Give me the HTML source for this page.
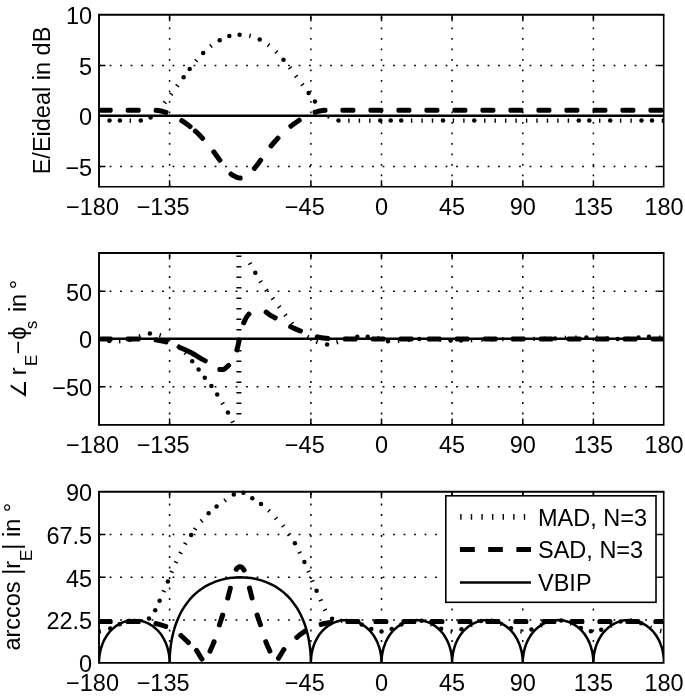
<!DOCTYPE html>
<html lang="en"><head><meta charset="utf-8"><title>Figure</title>
<style>html,body{margin:0;padding:0;background:#fff}svg{display:block}</style></head>
<body>
<svg width="685" height="699" viewBox="0 0 685 699" font-family="'Liberation Sans', Arial, Helvetica, sans-serif" font-size="23.5" fill="#000">
<rect width="685" height="699" fill="#fff"/>
<g id="ax1">
<path d="M169.6 186.7V14.8M310.9 186.7V14.8M381.5 186.7V14.8M452.1 186.7V14.8M522.8 186.7V14.8M593.4 186.7V14.8M99.1 65.4H664M99.1 115.9H664M99.1 166.5H664" stroke="#000" stroke-width="1.5" stroke-dasharray="1.80 8.70" fill="none"/>
<path d="M99 115.7H664" stroke="#000" stroke-width="2.4"/>
<path d="M110.9 112.7L111.8 112.4L112.5 111.8L112.7 110.9L112.7 109.5L112.5 108.6L111.8 107.9L110.9 107.7L100.8 107.7L99.9 107.9L99.2 108.6L99 109.5L99 110.9L99.2 111.8L99.9 112.4L100.8 112.7ZM138.9 112.7L139.8 112.4L140.5 111.8L140.7 110.9L140.7 109.5L140.5 108.6L139.8 107.9L138.9 107.7L127.5 107.7L126.6 107.9L125.9 108.6L125.7 109.5L125.7 110.9L125.9 111.8L126.6 112.4L127.5 112.7ZM157.9 113L161.6 113.7L163.4 114.2L165.7 115L166.7 115.1L167.5 114.7L168.1 113.9L168.5 112.6L168.6 111.7L168.2 110.8L167.4 110.3L164.8 109.4L162.7 108.8L158.6 108.1L155.8 107.7L154.9 107.9L154.1 108.4L153.8 109.3L153.6 110.7L153.8 111.6L154.3 112.4L155.2 112.7ZM182.3 124L187 127.3L189 128.9L189.9 129.2L190.8 129.1L191.6 128.6L192.4 127.5L192.8 126.6L192.7 125.7L192.1 124.9L189.9 123.3L185.2 119.8L182.7 118.2L181.8 117.9L180.9 118.1L180.2 118.7L179.4 119.9L179.1 120.7L179.3 121.7L179.9 122.4ZM196.5 135.6L201.2 140.4L202 140.9L202.9 140.9L203.7 140.4L204.7 139.5L205.2 138.7L205.2 137.7L204.8 136.9L200 132.1L196.6 128.8L195.8 128.4L194.9 128.4L194.1 128.9L193.1 129.9L192.7 130.7L192.7 131.6L193.2 132.4ZM218.2 162.2L218.9 162.7L219.8 162.9L220.7 162.6L221.8 161.7L222.4 161L222.6 160.1L222.2 159.2L215.6 150L214.8 149.4L213.9 149.2L213 149.6L211.9 150.4L211.3 151.1L211.2 152L211.5 152.9ZM230 176.5L231.1 177.2L233.7 178.6L235.4 179.5L236.7 180L238.1 180.3L239.7 180.6L241 180.6L241.9 180.3L242.5 179.5L242.7 178.6L242.6 177.2L242.3 176.4L241.5 175.7L240.6 175.6L240.1 175.6L239.2 175.5L237.3 174.8L235.9 174.1L233.7 172.9L233.1 172.6L232.2 171.7L231.3 171.3L230.4 171.4L229.6 171.9L228.7 173L228.3 173.9L228.4 174.8L228.9 175.6ZM259.5 166.1L263 161.3L263.3 160.4L263.2 159.5L262.6 158.7L261.5 157.9L260.6 157.6L259.7 157.7L258.9 158.3L255.5 163L252.1 167.3L251.7 168.1L251.8 169.1L252.4 169.8L253.5 170.7L254.3 171.1L255.3 171L256 170.4ZM272.7 147.9L275.9 144.2L280.1 139.6L280.6 138.8L280.6 137.8L280.1 137L279 136.1L278.2 135.6L277.3 135.6L276.5 136.1L272.1 140.8L270.1 143.1L268.8 144.8L268.4 145.6L268.5 146.6L269.1 147.3L270.1 148.2L271 148.6L271.9 148.5ZM291.9 128.5L296.2 125.3L301.1 122L301.7 121.3L301.9 120.4L301.6 119.5L300.9 118.4L300.2 117.7L299.2 117.6L298.4 117.8L293.4 121.2L290.9 123L288.9 124.5L288.3 125.3L288.2 126.2L288.6 127.1L289.4 128.2L290.2 128.7L291.1 128.9ZM317.1 114.2L318.9 113.7L323 112.9L325.8 112.7L326.7 112.4L327.3 111.7L327.5 110.7L327.4 109.3L327.1 108.5L326.4 107.9L325.4 107.7L322.3 108L317.8 108.8L315.7 109.4L313.7 110.1L312.9 110.6L312.5 111.4L312.6 112.4L313 113.7L313.6 114.4L314.4 114.9L315.3 114.8ZM353.6 112.7L354.5 112.4L355.2 111.8L355.4 110.9L355.4 109.5L355.2 108.6L354.5 107.9L353.6 107.7L342.2 107.7L341.3 107.9L340.7 108.6L340.4 109.5L340.4 110.9L340.7 111.8L341.3 112.4L342.2 112.7ZM381.6 112.7L382.5 112.4L383.2 111.8L383.4 110.9L383.4 109.5L383.2 108.6L382.5 107.9L381.6 107.7L370.2 107.7L369.3 107.9L368.7 108.6L368.4 109.5L368.4 110.9L368.7 111.8L369.3 112.4L370.2 112.7ZM409.6 112.7L410.5 112.4L411.2 111.8L411.4 110.9L411.4 109.5L411.2 108.6L410.5 107.9L409.6 107.7L398.2 107.7L397.3 107.9L396.7 108.6L396.4 109.5L396.4 110.9L396.7 111.8L397.3 112.4L398.2 112.7ZM437.6 112.7L438.5 112.4L439.2 111.8L439.4 110.9L439.4 109.5L439.2 108.6L438.5 107.9L437.6 107.7L426.2 107.7L425.3 107.9L424.7 108.6L424.4 109.5L424.4 110.9L424.7 111.8L425.3 112.4L426.2 112.7ZM465.6 112.7L466.5 112.4L467.2 111.8L467.4 110.9L467.4 109.5L467.2 108.6L466.5 107.9L465.6 107.7L454.2 107.7L453.3 107.9L452.7 108.6L452.4 109.5L452.4 110.9L452.7 111.8L453.3 112.4L454.2 112.7ZM493.6 112.7L494.5 112.4L495.2 111.8L495.4 110.9L495.4 109.5L495.2 108.6L494.5 107.9L493.6 107.7L482.2 107.7L481.3 107.9L480.7 108.6L480.4 109.5L480.4 110.9L480.7 111.8L481.3 112.4L482.2 112.7ZM521.6 112.7L522.5 112.4L523.2 111.8L523.4 110.9L523.4 109.5L523.2 108.6L522.5 107.9L521.6 107.7L510.2 107.7L509.3 107.9L508.7 108.6L508.4 109.5L508.4 110.9L508.7 111.8L509.3 112.4L510.2 112.7ZM549.6 112.7L550.5 112.4L551.2 111.8L551.4 110.9L551.4 109.5L551.2 108.6L550.5 107.9L549.6 107.7L538.2 107.7L537.3 107.9L536.7 108.6L536.4 109.5L536.4 110.9L536.7 111.8L537.3 112.4L538.2 112.7ZM577.6 112.7L578.5 112.4L579.2 111.8L579.4 110.9L579.4 109.5L579.2 108.6L578.5 107.9L577.6 107.7L566.2 107.7L565.3 107.9L564.7 108.6L564.4 109.5L564.4 110.9L564.7 111.8L565.3 112.4L566.2 112.7ZM605.6 112.7L606.5 112.4L607.2 111.8L607.4 110.9L607.4 109.5L607.2 108.6L606.5 107.9L605.6 107.7L594.2 107.7L593.3 107.9L592.7 108.6L592.4 109.5L592.4 110.9L592.7 111.8L593.3 112.4L594.2 112.7ZM633.6 112.7L634.5 112.4L635.2 111.8L635.4 110.9L635.4 109.5L635.2 108.6L634.5 107.9L633.6 107.7L622.2 107.7L621.3 107.9L620.7 108.6L620.4 109.5L620.4 110.9L620.7 111.8L621.3 112.4L622.2 112.7ZM661.6 112.7L662.5 112.4L663.2 111.8L663.4 110.9L663.4 109.5L663.2 108.6L662.5 107.9L661.6 107.7L650.2 107.7L649.3 107.9L648.7 108.6L648.4 109.5L648.4 110.9L648.7 111.8L649.3 112.4L650.2 112.7Z" fill="#000"/>
<path d="M99 118.4L99 122.7M130.3 118.4L130.3 122.7M156.6 109.1L159.9 111.9M163.2 101.1L166.6 103.8M169.5 92.8L172.9 95.4M175.6 84.4L179.1 87M194.6 59.3L197.8 62M209.7 44.2L212.3 47.6M250.5 33.7L249.5 37.9M269.8 43.5L267.2 46.9M277.9 50.5L274.9 53.6M291.8 66.6L288.3 69.2M297.9 75L294.5 77.6M304.1 83.4L300.7 86M323.1 108.2L319.8 111M330.3 115.2L327.6 118.5M348.9 118.4L348.9 122.7M359.4 118.4L359.4 122.7M369.8 118.4L369.8 122.7M411.6 118.4L411.6 122.7M422.1 118.4L422.1 122.7M432.5 118.4L432.5 122.7M453.4 118.4L453.4 122.7M463.9 118.4L463.9 122.7M484.8 118.4L484.8 122.7M495.2 118.4L495.2 122.7M505.7 118.4L505.7 122.7M516.1 118.4L516.1 122.7M526.6 118.4L526.6 122.7M537 118.4L537 122.7M547.5 118.4L547.5 122.7M557.9 118.4L557.9 122.7M568.4 118.4L568.4 122.7M599.7 118.4L599.7 122.7M620.6 118.4L620.6 122.7M631.1 118.4L631.1 122.7M662.4 118.4L662.4 122.7" stroke="#000" stroke-width="1.4" fill="none"/><g fill="#000"><circle cx="109.5" cy="120.6" r="2.25"/><circle cx="119.9" cy="120.6" r="2.25"/><circle cx="140.8" cy="120.5" r="2.25"/><circle cx="150.6" cy="117.6" r="2.25"/><circle cx="183.6" cy="77.3" r="2.25"/><circle cx="189.7" cy="68.9" r="2.25"/><circle cx="203.2" cy="52.9" r="2.25"/><circle cx="219.7" cy="40.2" r="2.25"/><circle cx="229.3" cy="36.1" r="2.25"/><circle cx="239.6" cy="34.7" r="2.25"/><circle cx="259.7" cy="39.6" r="2.25"/><circle cx="283.5" cy="59.7" r="2.25"/><circle cx="308.6" cy="93.1" r="2.25"/><circle cx="314.9" cy="101.5" r="2.25"/><circle cx="338.5" cy="120.4" r="2.25"/><circle cx="380.3" cy="120.6" r="2.25"/><circle cx="390.7" cy="120.6" r="2.25"/><circle cx="401.2" cy="120.6" r="2.25"/><circle cx="443" cy="120.6" r="2.25"/><circle cx="474.3" cy="120.6" r="2.25"/><circle cx="578.8" cy="120.6" r="2.25"/><circle cx="589.3" cy="120.6" r="2.25"/><circle cx="610.2" cy="120.6" r="2.25"/><circle cx="641.5" cy="120.6" r="2.25"/><circle cx="652" cy="120.6" r="2.25"/></g>
<path d="M169.6 186.7v-6.5 M169.6 14.8v6.5M310.9 186.7v-6.5 M310.9 14.8v6.5M381.5 186.7v-6.5 M381.5 14.8v6.5M452.1 186.7v-6.5 M452.1 14.8v6.5M522.8 186.7v-6.5 M522.8 14.8v6.5M593.4 186.7v-6.5 M593.4 14.8v6.5M99 65.4h6.5 M664 65.4h-6.5M99 115.9h6.5 M664 115.9h-6.5M99 166.5h6.5 M664 166.5h-6.5" stroke="#000" stroke-width="1.5" fill="none"/>
<path d="M99 187.5V14.8H664.4" fill="none" stroke="#000" stroke-width="1.9" stroke-linejoin="miter"/>
<path d="M99 186.7H663.7V14.8" fill="none" stroke="#000" stroke-width="1.6" stroke-linejoin="miter"/>
<g text-anchor="middle">
<text x="92.5" y="215">−180</text>
<text x="163.1" y="215">−135</text>
<text x="304.8" y="215">−45</text>
<text x="381.5" y="215">0</text>
<text x="452.1" y="215">45</text>
<text x="522.8" y="215">90</text>
<text x="593.4" y="215">135</text>
<text x="664" y="215">180</text>
</g><g text-anchor="end">
<text x="92.2" y="24.1">10</text>
<text x="92.2" y="74.7">5</text>
<text x="92.2" y="125.2">0</text>
<text x="92.2" y="175.8">−5</text>
</g></g>
<g id="ax2">
<path d="M169.6 424.9V253M310.9 424.9V253M381.5 424.9V253M452.1 424.9V253M522.8 424.9V253M593.4 424.9V253M99.1 291.2H664M99.1 338.9H664M99.1 386.7H664" stroke="#000" stroke-width="1.5" stroke-dasharray="1.80 8.70" fill="none"/>
<path d="M99 338.8H664" stroke="#000" stroke-width="2.4"/>
<clipPath id="cp2"><rect x="99" y="253" width="565" height="171.9"/></clipPath>
<g clip-path="url(#cp2)"><path d="M110.9 341.4L111.8 341.2L112.5 340.5L112.7 339.6L112.7 338.2L112.5 337.4L111.8 336.7L110.9 336.4L100.8 336.4L99.9 336.7L99.2 337.4L99 338.2L99 339.6L99.2 340.5L99.9 341.2L100.8 341.4ZM138.9 341.5L139.8 341.2L140.5 340.6L140.7 339.7L140.7 338.3L140.5 337.4L139.8 336.7L138.9 336.5L127.5 336.5L126.6 336.7L125.9 337.3L125.7 338.2L125.7 339.6L125.9 340.5L126.6 341.2L127.5 341.4ZM157.8 342.8L164.3 344.1L166 344.6L166.9 344.6L167.7 344.1L168.2 343.3L168.5 342L168.6 341L168.1 340.2L167.3 339.8L165.5 339.3L158.6 337.9L155.9 337.4L154.9 337.5L154.2 338L153.8 338.9L153.6 340.3L153.7 341.2L154.2 342L155.1 342.3ZM178.2 349.5L184.7 352.3L189.6 354.7L192.7 356.4L199.8 360.7L204.7 363.3L205.6 363.5L206.5 363.2L207.1 362.5L207.7 361.3L207.9 360.4L207.6 359.5L206.9 358.9L202.3 356.4L195.2 352.1L192 350.3L186.7 347.7L180.1 344.9L179.2 344.8L178.3 345.1L177.7 345.9L177.2 347.2L177.1 348.1L177.4 348.9ZM223 372L223.8 371.9L224.6 371.7L226 371L227 370.2L230.7 366.8L231.2 366L231.2 365.1L230.8 364.3L229.8 363.3L229 362.8L228.1 362.7L227.3 363.2L223.7 366.4L223 367L219.2 367L218.3 367.3L217.6 367.9L217.4 368.8L217.4 370.2L217.6 371.1L218.3 371.8L219.2 372ZM240.3 346.7L241.8 340L241.8 339.1L241.3 338.3L240.4 337.8L239.1 337.5L238.1 337.6L237.3 338.1L236.9 338.9L235.5 345.5L234.3 349.9L234.3 350.8L234.8 351.6L235.6 352.1L237 352.5L237.9 352.4L238.7 352L239.2 351.2ZM245.9 324.3L247.2 321.2L248.3 319.1L249.7 317L251.1 315.3L251.6 314.4L251.5 313.5L251 312.7L249.9 311.8L249.1 311.4L248.2 311.5L247.4 312L245.7 313.9L244.8 315.2L244 316.7L242.7 319.1L241.2 322.5L241.1 323.4L241.5 324.2L242.2 324.8L243.5 325.3L244.4 325.4L245.3 325.1ZM267.4 316.2L269.1 317.4L271.2 318.6L274.6 320.4L275.5 320.6L276.4 320.3L277 319.6L277.6 318.3L277.8 317.4L277.6 316.5L276.9 315.9L273.6 314.3L271.8 313.2L267.2 309.8L266.3 309.5L265.4 309.6L264.6 310.2L263.8 311.3L263.5 312.2L263.6 313.1L264.2 313.8ZM293.7 330.9L300 333.5L301 333.6L301.8 333.3L302.4 332.5L302.9 331.2L303.1 330.3L302.7 329.5L302 328.9L295.8 326.3L291.1 324.2L290.2 324L289.4 324.3L288.8 325L288.2 326.3L288 327.2L288.3 328.1L289.1 328.7ZM319.4 339.9L322.7 340.4L325.5 340.8L328.1 341L329.1 340.9L329.8 340.3L330.1 339.4L330.2 338L330 337.1L329.4 336.4L328.6 336L326.1 335.8L323.4 335.5L320.4 335L317.1 334.3L316.2 334.4L315.4 334.9L315 335.7L314.7 337.1L314.8 338L315.3 338.8L316.1 339.2ZM355.9 341.4L356.8 341.2L357.4 340.5L357.7 339.6L357.7 338.2L357.4 337.4L356.8 336.7L355.9 336.4L344.5 336.4L343.6 336.7L342.9 337.4L342.7 338.2L342.7 339.6L342.9 340.5L343.6 341.2L344.5 341.4ZM383.9 341.4L384.8 341.2L385.4 340.5L385.7 339.6L385.7 338.2L385.4 337.4L384.8 336.7L383.9 336.4L372.5 336.4L371.6 336.7L370.9 337.4L370.7 338.2L370.7 339.6L370.9 340.5L371.6 341.2L372.5 341.4ZM411.9 341.4L412.8 341.2L413.4 340.5L413.7 339.6L413.7 338.2L413.4 337.4L412.8 336.7L411.9 336.4L400.5 336.4L399.6 336.7L398.9 337.4L398.7 338.2L398.7 339.6L398.9 340.5L399.6 341.2L400.5 341.4ZM439.9 341.4L440.8 341.2L441.4 340.5L441.7 339.6L441.7 338.2L441.4 337.4L440.8 336.7L439.9 336.4L428.5 336.4L427.6 336.7L426.9 337.4L426.7 338.2L426.7 339.6L426.9 340.5L427.6 341.2L428.5 341.4ZM467.9 341.4L468.8 341.2L469.4 340.5L469.7 339.6L469.7 338.2L469.4 337.4L468.8 336.7L467.9 336.4L456.5 336.4L455.6 336.7L454.9 337.4L454.7 338.2L454.7 339.6L454.9 340.5L455.6 341.2L456.5 341.4ZM495.9 341.4L496.8 341.2L497.4 340.5L497.7 339.6L497.7 338.2L497.4 337.4L496.8 336.7L495.9 336.4L484.5 336.4L483.6 336.7L482.9 337.4L482.7 338.2L482.7 339.6L482.9 340.5L483.6 341.2L484.5 341.4ZM523.9 341.4L524.8 341.2L525.4 340.5L525.7 339.6L525.7 338.2L525.4 337.4L524.8 336.7L523.9 336.4L512.5 336.4L511.6 336.7L510.9 337.4L510.7 338.2L510.7 339.6L510.9 340.5L511.6 341.2L512.5 341.4ZM551.9 341.4L552.8 341.2L553.4 340.5L553.7 339.6L553.7 338.2L553.4 337.4L552.8 336.7L551.9 336.4L540.5 336.4L539.6 336.7L538.9 337.4L538.7 338.2L538.7 339.6L538.9 340.5L539.6 341.2L540.5 341.4ZM579.9 341.4L580.8 341.2L581.4 340.5L581.7 339.6L581.7 338.2L581.4 337.4L580.8 336.7L579.9 336.4L568.5 336.4L567.6 336.7L566.9 337.4L566.7 338.2L566.7 339.6L566.9 340.5L567.6 341.2L568.5 341.4ZM607.9 341.4L608.8 341.2L609.4 340.5L609.7 339.6L609.7 338.2L609.4 337.4L608.8 336.7L607.9 336.4L596.5 336.4L595.6 336.7L594.9 337.4L594.7 338.2L594.7 339.6L594.9 340.5L595.6 341.2L596.5 341.4ZM635.9 341.4L636.8 341.2L637.4 340.5L637.7 339.6L637.7 338.2L637.4 337.4L636.8 336.7L635.9 336.4L624.5 336.4L623.6 336.7L622.9 337.4L622.7 338.2L622.7 339.6L622.9 340.5L623.6 341.2L624.5 341.4ZM662.2 341.4L663.1 341.2L663.8 340.5L664 339.6L664 338.2L663.8 337.4L663.1 336.7L662.2 336.4L652.5 336.4L651.6 336.7L650.9 337.4L650.7 338.2L650.7 339.6L650.9 340.5L651.6 341.2L652.5 341.4Z" fill="#000"/><path d="M99.5 337L98.5 341.2M119.7 339L119.7 343.3M139.1 334.3L140.6 338.3M160.8 333.2L159.5 337.3M170.6 338.1L168.3 341.7M179.3 344.2L176.6 347.6M187.1 351.6L184 354.6M224.5 402.4L220.8 404.6M234.6 420.9L230.7 422.8M236.4 256.2L241.4 256.2M236.4 266.7L241.4 266.7M236.4 277.2L241.4 277.2M236.4 287.7L241.4 287.7M236.4 298.2L241.4 298.2M236.4 308.7L241.4 308.7M236.4 319.2L241.4 319.2M236.4 329.7L241.4 329.7M236.4 340.2L241.4 340.2M236.4 350.7L241.4 350.7M236.4 361.2L241.4 361.2M236.4 371.7L241.4 371.7M236.4 382.2L241.4 382.2M236.4 392.7L241.4 392.7M236.4 403.2L241.4 403.2M236.4 413.7L241.4 413.7M252 262.6L248.2 264.6M262.5 280.5L258.8 282.8M268.1 289.2L264.6 291.6M274.6 297.2L271.2 299.9M280.9 305.6L277.4 308.2M287.2 313.9L283.8 316.5M293.7 321.9L290.5 324.8M300.9 329.1L298 332.4M309 335.2L306.7 338.8M317.6 340L316.2 344.1M336.6 340.2L337.8 344.3M346.5 336.6L347.6 340.8M378.5 336.2L377.5 340.4M398.3 338.7L398.7 343M408.6 337.8L409.1 342.1M429.8 337L429.6 341.3M440.3 337.6L440 341.9M471.4 338.1L471.6 342.4M481.8 337.6L482 341.9M492.3 337.2L492.4 341.5M502.8 337L502.9 341.3M513.2 336.9L513.3 341.2M523.7 336.8L523.7 341.1M534.1 336.7L534.2 341M544.6 336.5L544.7 340.8M565.4 335.8L565.6 340.1M575.9 335.4L576 339.7M597 335.5L596.7 339.8M628 336.6L628.3 340.9M660 335.6L658.5 339.7" stroke="#000" stroke-width="1.4" fill="none"/><g fill="#000"><circle cx="109.3" cy="341.1" r="2.25"/><circle cx="130" cy="339.7" r="2.25"/><circle cx="149.9" cy="333.5" r="2.25"/><circle cx="192.2" cy="361.2" r="2.25"/><circle cx="198.6" cy="369.4" r="2.25"/><circle cx="204.8" cy="377.8" r="2.25"/><circle cx="211.4" cy="385.9" r="2.25"/><circle cx="217.2" cy="394.6" r="2.25"/><circle cx="227.9" cy="412.5" r="2.25"/><circle cx="255.3" cy="272.7" r="2.25"/><circle cx="327.1" cy="344.5" r="2.25"/><circle cx="357.3" cy="336.8" r="2.25"/><circle cx="367.7" cy="336.8" r="2.25"/><circle cx="388" cy="341.2" r="2.25"/><circle cx="419.3" cy="339" r="2.25"/><circle cx="450.6" cy="340.4" r="2.25"/><circle cx="461" cy="340.4" r="2.25"/><circle cx="555.1" cy="338.4" r="2.25"/><circle cx="586.4" cy="337.5" r="2.25"/><circle cx="607.3" cy="338.4" r="2.25"/><circle cx="617.7" cy="338.9" r="2.25"/><circle cx="638.5" cy="337.6" r="2.25"/><circle cx="649" cy="336.8" r="2.25"/></g></g>
<path d="M169.6 424.9v-6.5 M169.6 253v6.5M310.9 424.9v-6.5 M310.9 253v6.5M381.5 424.9v-6.5 M381.5 253v6.5M452.1 424.9v-6.5 M452.1 253v6.5M522.8 424.9v-6.5 M522.8 253v6.5M593.4 424.9v-6.5 M593.4 253v6.5M99 291.2h6.5 M664 291.2h-6.5M99 338.9h6.5 M664 338.9h-6.5M99 386.7h6.5 M664 386.7h-6.5" stroke="#000" stroke-width="1.5" fill="none"/>
<path d="M99 425.7V253H664.4" fill="none" stroke="#000" stroke-width="1.9" stroke-linejoin="miter"/>
<path d="M99 424.9H663.7V253" fill="none" stroke="#000" stroke-width="1.6" stroke-linejoin="miter"/>
<g text-anchor="middle">
<text x="92.5" y="453.2">−180</text>
<text x="163.1" y="453.2">−135</text>
<text x="304.8" y="453.2">−45</text>
<text x="381.5" y="453.2">0</text>
<text x="452.1" y="453.2">45</text>
<text x="522.8" y="453.2">90</text>
<text x="593.4" y="453.2">135</text>
<text x="664" y="453.2">180</text>
</g><g text-anchor="end">
<text x="92.2" y="300.5">50</text>
<text x="92.2" y="348.2">0</text>
<text x="92.2" y="396">−50</text>
</g></g>
<g id="ax3">
<path d="M169.6 662.9V491.7M310.9 662.9V491.7M381.5 662.9V491.7M452.1 662.9V491.7M522.8 662.9V491.7M593.4 662.9V491.7M99.1 534.5H664M99.1 577.3H664M99.1 620.1H664" stroke="#000" stroke-width="1.5" stroke-dasharray="1.80 8.70" fill="none"/>
<clipPath id="cp3"><rect x="99" y="491.7" width="565" height="171.2"/></clipPath>
<g clip-path="url(#cp3)"><path d="M99 662.9L99 660.6L99.2 658.3L99.4 656L99.8 653.8L100.2 651.5L100.7 649.4L101.3 647.2L102.1 645.1L102.8 643.1L103.7 641.1L104.7 639.2L105.7 637.3L106.9 635.5L108.1 633.8L109.3 632.2L110.7 630.7L112.1 629.3L113.6 628L115.1 626.7L116.7 625.6L118.3 624.6L119.9 623.6L121.7 622.8L123.4 622.1L125.2 621.5L127 621L128.8 620.6L130.6 620.3L132.5 620.2L134.3 620.1L136.2 620.2L138 620.3L139.8 620.6L141.7 621L143.5 621.5L145.2 622.1L147 622.8L148.7 623.6L150.3 624.6L152 625.6L153.5 626.7L155.1 628L156.5 629.3L157.9 630.7L159.3 632.2L160.6 633.8L161.8 635.5L162.9 637.3L163.9 639.2L164.9 641.1L165.8 643.1L166.6 645.1L167.3 647.2L167.9 649.4L168.4 651.5L168.9 653.8L169.2 656L169.4 658.3L169.6 660.6L169.6 662.9L169.6 662.9L169.7 657.8L170 652.8L170.5 647.8L171.2 642.9L172 638.1L173.1 633.4L174.3 628.9L175.7 624.5L177.3 620.2L179.1 616.2L181 612.3L183.1 608.6L185.4 605.2L187.8 601.9L190.3 598.8L193 596L195.8 593.4L198.7 590.9L201.8 588.7L204.9 586.7L208.2 584.9L211.5 583.3L214.9 581.9L218.4 580.6L222 579.6L225.6 578.8L229.2 578.1L232.9 577.7L236.6 577.4L240.2 577.3L243.9 577.4L247.6 577.7L251.3 578.1L254.9 578.8L258.5 579.6L262.1 580.6L265.6 581.9L269 583.3L272.3 584.9L275.6 586.7L278.7 588.7L281.8 590.9L284.7 593.4L287.5 596L290.2 598.8L292.7 601.9L295.1 605.2L297.4 608.6L299.5 612.3L301.4 616.2L303.2 620.2L304.8 624.5L306.2 628.9L307.4 633.4L308.5 638.1L309.3 642.9L310 647.8L310.5 652.8L310.8 657.8L310.9 662.9L310.9 662.9L310.9 660.6L311.1 658.3L311.3 656L311.6 653.8L312.1 651.5L312.6 649.4L313.2 647.2L313.9 645.1L314.7 643.1L315.6 641.1L316.6 639.2L317.6 637.3L318.7 635.5L319.9 633.8L321.2 632.2L322.6 630.7L324 629.3L325.4 628L327 626.7L328.5 625.6L330.2 624.6L331.8 623.6L333.5 622.8L335.3 622.1L337 621.5L338.8 621L340.7 620.6L342.5 620.3L344.3 620.2L346.2 620.1L348 620.2L349.9 620.3L351.7 620.6L353.5 621L355.3 621.5L357.1 622.1L358.8 622.8L360.6 623.6L362.2 624.6L363.8 625.6L365.4 626.7L366.9 628L368.4 629.3L369.8 630.7L371.2 632.2L372.4 633.8L373.6 635.5L374.8 637.3L375.8 639.2L376.8 641.1L377.7 643.1L378.4 645.1L379.2 647.2L379.8 649.4L380.3 651.5L380.7 653.8L381.1 656L381.3 658.3L381.5 660.6L381.5 662.9L381.5 662.9L381.5 660.6L381.7 658.3L381.9 656L382.3 653.8L382.7 651.5L383.2 649.4L383.8 647.2L384.6 645.1L385.3 643.1L386.2 641.1L387.2 639.2L388.2 637.3L389.4 635.5L390.6 633.8L391.8 632.2L393.2 630.7L394.6 629.3L396.1 628L397.6 626.7L399.2 625.6L400.8 624.6L402.4 623.6L404.2 622.8L405.9 622.1L407.7 621.5L409.5 621L411.3 620.6L413.1 620.3L415 620.2L416.8 620.1L418.7 620.2L420.5 620.3L422.3 620.6L424.2 621L426 621.5L427.7 622.1L429.5 622.8L431.2 623.6L432.8 624.6L434.5 625.6L436 626.7L437.6 628L439 629.3L440.4 630.7L441.8 632.2L443.1 633.8L444.3 635.5L445.4 637.3L446.4 639.2L447.4 641.1L448.3 643.1L449.1 645.1L449.8 647.2L450.4 649.4L450.9 651.5L451.4 653.8L451.7 656L451.9 658.3L452.1 660.6L452.1 662.9L452.1 662.9L452.2 660.6L452.3 658.3L452.6 656L452.9 653.8L453.3 651.5L453.9 649.4L454.5 647.2L455.2 645.1L456 643.1L456.9 641.1L457.8 639.2L458.9 637.3L460 635.5L461.2 633.8L462.5 632.2L463.8 630.7L465.2 629.3L466.7 628L468.2 626.7L469.8 625.6L471.4 624.6L473.1 623.6L474.8 622.8L476.5 622.1L478.3 621.5L480.1 621L481.9 620.6L483.7 620.3L485.6 620.2L487.4 620.1L489.3 620.2L491.1 620.3L493 620.6L494.8 621L496.6 621.5L498.3 622.1L500.1 622.8L501.8 623.6L503.5 624.6L505.1 625.6L506.7 626.7L508.2 628L509.7 629.3L511.1 630.7L512.4 632.2L513.7 633.8L514.9 635.5L516 637.3L517.1 639.2L518 641.1L518.9 643.1L519.7 645.1L520.4 647.2L521 649.4L521.5 651.5L522 653.8L522.3 656L522.6 658.3L522.7 660.6L522.8 662.9L522.8 662.9L522.8 660.6L522.9 658.3L523.2 656L523.5 653.8L524 651.5L524.5 649.4L525.1 647.2L525.8 645.1L526.6 643.1L527.5 641.1L528.4 639.2L529.5 637.3L530.6 635.5L531.8 633.8L533.1 632.2L534.4 630.7L535.8 629.3L537.3 628L538.8 626.7L540.4 625.6L542 624.6L543.7 623.6L545.4 622.8L547.2 622.1L548.9 621.5L550.7 621L552.5 620.6L554.4 620.3L556.2 620.2L558.1 620.1L559.9 620.2L561.8 620.3L563.6 620.6L565.4 621L567.2 621.5L569 622.1L570.7 622.8L572.4 623.6L574.1 624.6L575.7 625.6L577.3 626.7L578.8 628L580.3 629.3L581.7 630.7L583 632.2L584.3 633.8L585.5 635.5L586.6 637.3L587.7 639.2L588.6 641.1L589.5 643.1L590.3 645.1L591 647.2L591.6 649.4L592.2 651.5L592.6 653.8L592.9 656L593.2 658.3L593.3 660.6L593.4 662.9L593.4 662.9L593.4 660.6L593.6 658.3L593.8 656L594.1 653.8L594.6 651.5L595.1 649.4L595.7 647.2L596.4 645.1L597.2 643.1L598.1 641.1L599.1 639.2L600.1 637.3L601.2 635.5L602.4 633.8L603.7 632.2L605.1 630.7L606.5 629.3L607.9 628L609.5 626.7L611 625.6L612.7 624.6L614.3 623.6L616 622.8L617.8 622.1L619.5 621.5L621.3 621L623.2 620.6L625 620.3L626.8 620.2L628.7 620.1L630.5 620.2L632.4 620.3L634.2 620.6L636 621L637.8 621.5L639.6 622.1L641.3 622.8L643.1 623.6L644.7 624.6L646.3 625.6L647.9 626.7L649.4 628L650.9 629.3L652.3 630.7L653.7 632.2L654.9 633.8L656.1 635.5L657.3 637.3L658.3 639.2L659.3 641.1L660.2 643.1L660.9 645.1L661.7 647.2L662.3 649.4L662.8 651.5L663.2 653.8L663.6 656L663.8 658.3L664 660.6L664 662.9" stroke="#000" stroke-width="2.5" fill="none" stroke-linejoin="miter"/></g>
<path d="M110.9 624.1L111.8 623.9L112.5 623.2L112.7 622.3L112.7 620.9L112.5 620L111.8 619.4L110.9 619.1L100.8 619.1L99.9 619.4L99.2 620L99 620.9L99 622.3L99.2 623.2L99.9 623.9L100.8 624.1ZM138.9 624.1L139.8 623.9L140.5 623.2L140.7 622.3L140.7 620.9L140.5 620L139.8 619.4L138.9 619.1L127.5 619.1L126.6 619.4L125.9 620L125.7 620.9L125.7 622.3L125.9 623.2L126.6 623.9L127.5 624.1ZM157.6 626.6L160.3 627.3L163 628.1L165.5 629L166.4 629.1L167.2 628.7L167.8 627.9L168.2 626.6L168.3 625.7L167.9 624.8L167.1 624.3L164.6 623.4L161.7 622.5L158.8 621.8L155.9 621.1L155 621.1L154.2 621.6L153.7 622.4L153.4 623.8L153.5 624.7L154 625.5L154.8 626ZM178.9 637.1L181.7 639.5L187.1 644.7L187.9 645.2L188.8 645.2L189.6 644.7L190.6 643.7L191 642.9L191 641.9L190.5 641.1L185.1 635.9L183.5 634.4L182.1 633.2L181.2 632.8L180.3 632.9L179.5 633.5L178.6 634.5L178.2 635.4L178.3 636.3ZM195.4 653.2L198.5 658.5L200.2 661L200.9 661.6L201.8 661.8L202.7 661.5L203.8 660.7L204.5 660L204.6 659.1L204.3 658.2L202.7 655.8L199.6 650.5L198.3 648.5L197.6 647.9L196.7 647.7L195.8 648L194.7 648.8L194 649.5L193.8 650.4L194.1 651.3ZM215.1 645.8L216.6 642.2L216.7 641.2L216.3 640.4L215.6 639.8L214.3 639.3L213.3 639.2L212.5 639.6L211.9 640.3L210.5 643.9L207.5 650.7L207.4 651.7L207.7 652.5L208.4 653.1L209.7 653.7L210.6 653.8L211.5 653.5L212.1 652.7ZM225.2 615.4L225.2 614.4L224.8 613.6L224 613.1L222.7 612.7L221.8 612.6L220.9 613L220.4 613.8L216.9 624.6L216.8 625.6L217.2 626.4L218 626.9L219.3 627.3L220.3 627.4L221.1 627L221.6 626.2ZM230 599.4L232.9 588.3L232.9 587.4L232.4 586.6L231.6 586.1L230.3 585.8L229.3 585.8L228.5 586.2L228.1 587L225.2 598L225.2 599L225.7 599.8L226.5 600.3L227.8 600.6L228.7 600.6L229.6 600.2ZM238.7 570.2L239.1 569.8L239.6 569.4L239.9 569.2L240.1 569.3L241.1 570.1L242.2 571.9L242.8 572.5L243.7 572.8L244.6 572.5L245.9 571.8L246.5 571.2L246.7 570.2L246.5 569.4L245.5 567.7L244.9 566.9L244.2 566.1L242.8 565.1L241.7 564.5L240.8 564.2L239.8 564.2L238.9 564.3L238.1 564.5L237 565.2L235.9 565.9L235.3 566.5L234.6 567.3L233.9 568.4L233.6 569.3L233.8 570.2L234.4 570.9L235.6 571.7L236.5 572L237.4 571.8L238.1 571.2ZM246.9 588.1L249.8 599.2L250.3 600L251.1 600.5L252 600.5L253.4 600.1L254.2 599.6L254.6 598.8L254.6 597.9L251.8 586.9L251.3 586.1L250.5 585.6L249.6 585.6L248.2 585.9L247.4 586.4L246.9 587.2ZM258.2 626L258.7 626.8L259.6 627.2L260.5 627.2L261.8 626.7L262.6 626.2L263 625.4L263 624.5L259.4 613.7L258.9 612.9L258 612.5L257.1 612.5L255.8 612.9L255 613.5L254.6 614.3L254.6 615.2ZM264.6 645.4L267.7 652.6L268.3 653.3L269.2 653.7L270.1 653.5L271.4 653L272.1 652.4L272.5 651.5L272.3 650.6L269.2 643.5L267.9 640.2L267.3 639.4L266.5 639L265.6 639.2L264.3 639.7L263.5 640.2L263.2 641.1L263.3 642ZM281.6 658.1L284.7 652.8L286.2 650.6L286.6 649.8L286.4 648.8L285.8 648.1L284.7 647.3L283.8 647L282.9 647.1L282.2 647.7L281.4 648.8L276 657.5L275.8 658.4L276 659.3L276.6 660L277.8 660.7L278.6 661L279.6 660.8L280.2 660.2ZM299.9 638L301.4 636.8L306.8 632.9L307.4 632.2L307.5 631.3L307.2 630.4L306.4 629.3L305.7 628.7L304.8 628.5L303.9 628.8L301.6 630.4L298.4 632.8L296.7 634.2L294.6 636L294.1 636.8L294.1 637.7L294.5 638.5L295.5 639.6L296.2 640.1L297.2 640.1L298 639.7ZM325.1 625.9L332.2 624.6L333 624.2L333.5 623.4L333.6 622.5L333.3 621.1L332.9 620.3L332.2 619.8L331.2 619.7L324.1 621.1L320 622L319.1 622.5L318.6 623.3L318.6 624.2L318.9 625.6L319.4 626.4L320.2 626.9L321.1 626.9ZM358.6 624.1L359.5 623.9L360.2 623.2L360.4 622.3L360.4 620.9L360.2 620L359.5 619.4L358.6 619.1L347.2 619.1L346.3 619.4L345.6 620L345.4 620.9L345.4 622.3L345.6 623.2L346.3 623.9L347.2 624.1ZM386.6 624.1L387.5 623.9L388.2 623.2L388.4 622.3L388.4 620.9L388.2 620L387.5 619.4L386.6 619.1L375.2 619.1L374.3 619.4L373.6 620L373.4 620.9L373.4 622.3L373.6 623.2L374.3 623.9L375.2 624.1ZM414.6 624.1L415.5 623.9L416.2 623.2L416.4 622.3L416.4 620.9L416.2 620L415.5 619.4L414.6 619.1L403.2 619.1L402.3 619.4L401.6 620L401.4 620.9L401.4 622.3L401.6 623.2L402.3 623.9L403.2 624.1ZM442.6 624.1L443.5 623.9L444.2 623.2L444.4 622.3L444.4 620.9L444.2 620L443.5 619.4L442.6 619.1L431.2 619.1L430.3 619.4L429.6 620L429.4 620.9L429.4 622.3L429.6 623.2L430.3 623.9L431.2 624.1ZM470.6 624.1L471.5 623.9L472.2 623.2L472.4 622.3L472.4 620.9L472.2 620L471.5 619.4L470.6 619.1L459.2 619.1L458.3 619.4L457.6 620L457.4 620.9L457.4 622.3L457.6 623.2L458.3 623.9L459.2 624.1ZM498.6 624.1L499.5 623.9L500.2 623.2L500.4 622.3L500.4 620.9L500.2 620L499.5 619.4L498.6 619.1L487.2 619.1L486.3 619.4L485.6 620L485.4 620.9L485.4 622.3L485.6 623.2L486.3 623.9L487.2 624.1ZM526.6 624.1L527.5 623.9L528.2 623.2L528.4 622.3L528.4 620.9L528.2 620L527.5 619.4L526.6 619.1L515.2 619.1L514.3 619.4L513.6 620L513.4 620.9L513.4 622.3L513.6 623.2L514.3 623.9L515.2 624.1ZM554.6 624.1L555.5 623.9L556.2 623.2L556.4 622.3L556.4 620.9L556.2 620L555.5 619.4L554.6 619.1L543.2 619.1L542.3 619.4L541.6 620L541.4 620.9L541.4 622.3L541.6 623.2L542.3 623.9L543.2 624.1ZM582.6 624.1L583.5 623.9L584.2 623.2L584.4 622.3L584.4 620.9L584.2 620L583.5 619.4L582.6 619.1L571.2 619.1L570.3 619.4L569.6 620L569.4 620.9L569.4 622.3L569.6 623.2L570.3 623.9L571.2 624.1ZM610.6 624.1L611.5 623.9L612.2 623.2L612.4 622.3L612.4 620.9L612.2 620L611.5 619.4L610.6 619.1L599.2 619.1L598.3 619.4L597.6 620L597.4 620.9L597.4 622.3L597.6 623.2L598.3 623.9L599.2 624.1ZM638.6 624.1L639.5 623.9L640.2 623.2L640.4 622.3L640.4 620.9L640.2 620L639.5 619.4L638.6 619.1L627.2 619.1L626.3 619.4L625.6 620L625.4 620.9L625.4 622.3L625.6 623.2L626.3 623.9L627.2 624.1ZM662.2 624.1L663.1 623.9L663.8 623.2L664 622.3L664 620.9L663.8 620L663.1 619.4L662.2 619.1L655.2 619.1L654.3 619.4L653.6 620L653.4 620.9L653.4 622.3L653.6 623.2L654.3 623.9L655.2 624.1Z" fill="#000"/>
<path d="M99.9 629.3L100.5 633.5M129.1 618.6L130 622.8M140.3 618.8L139.4 623M161.7 590.3L165.7 592M169.7 571L173.7 572.7M174 561.4L177.9 563.2M178.7 552L182.5 553.9M183.5 542.6L187.2 544.7M193.4 527.8L196.9 530.2M200.2 519.3L203.1 522.5M223.9 498.6L226.3 502.2M270.4 509.1L267.7 512.3M277.7 517L274.4 519.8M284.9 524.7L281.5 527.3M290.9 533.4L287.3 535.8M301.6 551.6L297.8 553.5M310.6 570.6L306.6 572.3M314.4 580.4L310.4 582M322.7 599.5L318.8 601.2M326.9 608.8L323.2 610.9M340.9 618.6L341.8 622.9M352.2 618.8L351.3 623M410.7 618.8L411.6 623M432.4 622.3L430.7 626.2M451.5 629.3L451 633.6M470.3 622.9L472 626.9M491.8 618.5L491 622.7M502.3 621.9L500.5 625.9M521.4 629.2L520.8 633.5M540.2 623.3L541.9 627.2M550.3 619.2L551.3 623.4M572.2 621.6L570.4 625.5M610 623.6L611.8 627.5M631.3 618.2L630.8 622.4M651.7 625.7L649.8 629.5M661.1 628.9L660.3 633.2" stroke="#000" stroke-width="1.4" fill="none"/><g fill="#000"><circle cx="110.2" cy="628.6" r="2.25"/><circle cx="119.7" cy="624.2" r="2.25"/><circle cx="149" cy="618.6" r="2.25"/><circle cx="155.2" cy="610.3" r="2.25"/><circle cx="159.6" cy="600.8" r="2.25"/><circle cx="167.9" cy="581.6" r="2.25"/><circle cx="191.1" cy="535" r="2.25"/><circle cx="208.6" cy="513.2" r="2.25"/><circle cx="216.6" cy="506.4" r="2.25"/><circle cx="233.8" cy="494.6" r="2.25"/><circle cx="243.4" cy="492.8" r="2.25"/><circle cx="252.3" cy="498.3" r="2.25"/><circle cx="261" cy="504" r="2.25"/><circle cx="294.9" cy="543.3" r="2.25"/><circle cx="304.4" cy="561.9" r="2.25"/><circle cx="316.6" cy="590.7" r="2.25"/><circle cx="332.1" cy="618.8" r="2.25"/><circle cx="361.7" cy="624.6" r="2.25"/><circle cx="371.3" cy="629" r="2.25"/><circle cx="381.5" cy="631.5" r="2.25"/><circle cx="391.7" cy="629" r="2.25"/><circle cx="401.3" cy="624.6" r="2.25"/><circle cx="421.6" cy="620.7" r="2.25"/><circle cx="441.1" cy="628.7" r="2.25"/><circle cx="461.5" cy="629.3" r="2.25"/><circle cx="481" cy="621.1" r="2.25"/><circle cx="511" cy="628.3" r="2.25"/><circle cx="531.4" cy="629.5" r="2.25"/><circle cx="561.2" cy="620.4" r="2.25"/><circle cx="580.9" cy="628" r="2.25"/><circle cx="590.9" cy="631.2" r="2.25"/><circle cx="601.2" cy="629.8" r="2.25"/><circle cx="620.6" cy="621.5" r="2.25"/><circle cx="641.2" cy="623.2" r="2.25"/></g>
<path d="M169.6 662.9v-6.5 M169.6 491.7v6.5M310.9 662.9v-6.5 M310.9 491.7v6.5M381.5 662.9v-6.5 M381.5 491.7v6.5M452.1 662.9v-6.5 M452.1 491.7v6.5M522.8 662.9v-6.5 M522.8 491.7v6.5M593.4 662.9v-6.5 M593.4 491.7v6.5M99 534.5h6.5 M664 534.5h-6.5M99 577.3h6.5 M664 577.3h-6.5M99 620.1h6.5 M664 620.1h-6.5" stroke="#000" stroke-width="1.5" fill="none"/>
<path d="M99 663.7V491.7H664.4" fill="none" stroke="#000" stroke-width="1.9" stroke-linejoin="miter"/>
<path d="M99 662.9H663.7V491.7" fill="none" stroke="#000" stroke-width="1.6" stroke-linejoin="miter"/>
<g text-anchor="middle">
<text x="92.5" y="691.2">−180</text>
<text x="163.1" y="691.2">−135</text>
<text x="304.8" y="691.2">−45</text>
<text x="381.5" y="691.2">0</text>
<text x="452.1" y="691.2">45</text>
<text x="522.8" y="691.2">90</text>
<text x="593.4" y="691.2">135</text>
<text x="664" y="691.2">180</text>
</g><g text-anchor="end">
<text x="92.2" y="501">90</text>
<text x="92.2" y="543.8">67.5</text>
<text x="92.2" y="586.6">45</text>
<text x="92.2" y="629.4">22.5</text>
<text x="92.2" y="672.2">0</text>
</g></g>
<text transform="translate(49.5,174.3) rotate(-90)" id="yl1">E/Eideal in dB</text>
<text transform="translate(25.8,397) rotate(-90)" id="yl2"><tspan x="-1.6" font-family="'DejaVu Sans', sans-serif" font-size="21">∠</tspan><tspan x="21.8">r</tspan><tspan x="31.1" dy="11.3" font-size="16.8">E</tspan><tspan x="42.8" dy="-11.3">−</tspan><tspan x="57.2">ϕ</tspan><tspan x="68" dy="11.3" font-size="16.8">s</tspan><tspan x="84.9" dy="-11.3">in</tspan><tspan x="107.8">°</tspan></text>
<text transform="translate(20.3,650.6) rotate(-90)" id="yl3">arccos |r<tspan dy="11.3" font-size="16.8">E</tspan><tspan dy="-11.3">| in °</tspan></text>
<g id="legend"><rect x="445.8" y="495.8" width="210.2" height="106.5" fill="#fff" stroke="#000" stroke-width="1.6"/>
<path d="M460.9 513.9v5.8M471.5 513.9v5.8M482.1 513.9v5.8M492.7 513.9v5.8M503.3 513.9v5.8M513.9 513.9v5.8M524.5 513.9v5.8" stroke="#000" stroke-width="1.4" fill="none"/>
<path d="M459.9 549.5h14.9M488.2 549.5h14.6M516.4 549.5h14.6" stroke="#000" stroke-width="5.2"/>
<path d="M459.9 582.5h71.1" stroke="#000" stroke-width="2.5"/>
<text x="538" y="526">MAD, N=3</text><text x="538" y="557.8">SAD, N=3</text><text x="538" y="590.8">VBIP</text></g>
</svg>
</body></html>
